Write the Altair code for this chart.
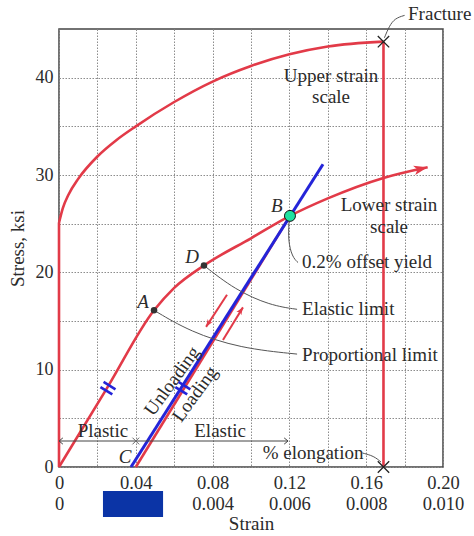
import json
import altair as alt
import pandas as pd

# ---------------- data ----------------
SCALE = 20  # upper strain scale / lower strain scale

# Upper strain scale curve (strain read on the upper scale)
upper_strain = [0, 0.002, 0.005, 0.01, 0.02, 0.03, 0.04, 0.06, 0.08, 0.10, 0.12, 0.14, 0.169]
upper_stress = [25.1, 26.6, 28.0, 29.6, 31.9, 33.6, 35.0, 37.5, 39.6, 41.2, 42.4, 43.2, 43.7]
fracture_strain = 0.169
fracture_stress = 43.7

# Lower strain scale curve (strain read on the lower scale)
lower_strain = [0, 0.00125, 0.002475, 0.003, 0.003775, 0.005, 0.006015, 0.007, 0.00845, 0.0096]
lower_stress = [0, 8.1, 16.1, 18.4, 20.7, 23.5, 25.8, 27.6, 29.7, 30.8]

# Named points (lower scale)
pt_names = ["A", "D"]
pt_strain = [0.002475, 0.003775]
pt_stress = [16.1, 20.7]
yield_strain = 0.006015
yield_stress = 25.8
offset_strain = 0.002          # 0.2 % offset (point C)

# Unloading / loading line (lower scale)
unload_strain = [0.001875, 0.006875]
unload_stress = [0, 31.1]

# Axis tick labels
tick_pos = [0, 4, 8, 12, 16, 20]  # hundredths on upper scale
upper_labels = ["0", "0.04", "0.08", "0.12", "0.16", "0.20"]
lower_labels = ["0", "0.002", "0.004", "0.006", "0.008", "0.010"]
y_labels = [0, 10, 20, 30, 40]

# Annotation texts (upper-scale x, stress y)
txt_label = ["Fracture", "Upper strain", "scale", "Lower strain", "scale",
             "0.2% offset yield", "Elastic limit", "Proportional limit",
             "Plastic", "Elastic", "% elongation"]
txt_x = [0.1818, 0.1417, 0.1417, 0.1719, 0.1719, 0.1266, 0.1266, 0.1266, 0.0229, 0.0839, 0.1323]
txt_y = [46.5, 40.2, 38.0, 26.9, 24.7, 21.1, 16.2, 11.5, 3.7, 3.7, 1.44]
txt_align = ["left", "center", "center", "center", "center", "left", "left", "left",
             "center", "center", "center"]

ital_label = ["A", "B", "C", "D"]
ital_x = [0.0438, 0.1135, 0.0344, 0.0693]
ital_y = [16.95, 26.8, 1.03, 21.6]

rot_label = ["Unloading", "Loading"]
rot_x = [0.0589, 0.0708]
rot_y = [8.84, 7.5]

# Leader curves
leaders = {
    "B": ([0.1198, 0.1193, 0.1214, 0.1245], [25.2, 23.3, 21.6, 21.0]),
    "D": ([0.0755, 0.0917, 0.110, 0.124], [20.7, 18.2, 16.6, 16.2]),
    "A": ([0.0495, 0.0682, 0.0943, 0.124], [16.1, 13.9, 12.2, 11.6]),
    "F": ([0.180, 0.175, 0.172, 0.1695], [46.4, 46.1, 45.3, 44.1]),
    "E": ([0.158, 0.164, 0.1677], [1.44, 1.13, 0.51]),
}

# Red direction arrows (upper-scale x, stress)
arrow_x0 = [0.0875, 0.0854]
arrow_y0 = [17.7, 13.05]
arrow_x1 = [0.0766, 0.0958]
arrow_y1 = [14.4, 16.4]
arrow_angle = [213, 33]

# Elongation dimension line
dim_y = 2.67
dim_x = [0, 0.1193]

# Hash marks centres
hash_x = [0.0255, 0.0645]
hash_y = [8.1, 8.1]

# blue box hiding a label
box_x = [0.0229, 0.0542]
box_y = [-2.47, -5.14]

# ---------------- layout ----------------
W, H = 384, 438
xs = alt.Scale(domain=[0, 0.2], nice=False, zero=False)
ys = alt.Scale(domain=[0, 45], nice=False)
FONT = "Liberation Serif"
RED = "#e23a48"
BLUE = "#2424d8"
TXT = "#2b2b2b"

idx = f"indexof({json.dumps(tick_pos)}, round(datum.value*100))"
x_label_expr = f"{idx} >= 0 ? [{json.dumps(upper_labels)}[{idx}], {json.dumps(lower_labels)}[{idx}]] : ''"
y_label_expr = f"indexof({json.dumps(y_labels)}, datum.value) >= 0 ? datum.label : ''"

x_axis = alt.Axis(values=[round(i * 0.02, 2) for i in range(11)], labelExpr=x_label_expr, title="Strain",
                  labelFont=FONT, labelFontSize=18.5, labelColor=TXT, labelLineHeight=21,
                  labelPadding=6, labelFlush=False, labelOverlap=False, ticks=False, domain=False,
                  grid=True, gridColor="#8c8c8c", gridDash=[1.5, 1.5], gridWidth=1,
                  titleFont=FONT, titleFontSize=19, titleFontWeight="normal", titleColor=TXT,
                  titlePadding=2)
y_axis = alt.Axis(values=list(range(0, 45, 5)), labelExpr=y_label_expr, title="Stress, ksi",
                  labelFont=FONT, labelFontSize=18, labelColor=TXT, labelPadding=6,
                  ticks=False, domain=False, grid=True, gridColor="#8c8c8c", gridDash=[1.5, 1.5],
                  gridWidth=1, titleFont=FONT, titleFontSize=19, titleFontWeight="normal",
                  titleColor=TXT, titlePadding=8)


def X(field="x"):
    return alt.X(f"{field}:Q", scale=xs, axis=x_axis)


def Y(field="y"):
    return alt.Y(f"{field}:Q", scale=ys, axis=y_axis)


# upper curve
df_up = pd.DataFrame({"x": upper_strain, "y": upper_stress})
up_line = alt.Chart(df_up).mark_line(color=RED, strokeWidth=2.6, interpolate="monotone").encode(
    x=X(), y=Y())

# vertical red rules (elastic part on upper scale, and fracture drop)
df_vr = pd.DataFrame({"x": [0, fracture_strain], "y": [0, 0], "y2": [upper_stress[0], fracture_stress]})
vr = alt.Chart(df_vr).mark_rule(color=RED, strokeWidth=2.6).encode(x=X(), y=Y(), y2="y2:Q")

# lower curve
df_low = pd.DataFrame({"strain": lower_strain, "y": lower_stress})
low_line = alt.Chart(df_low).transform_calculate(x=f"datum.strain*{SCALE}").mark_line(
    color=RED, strokeWidth=2.6, interpolate="monotone").encode(x=X(), y=Y())

# end arrowhead of lower curve
df_endarrow = pd.DataFrame({"strain": [lower_strain[-1]], "y": [lower_stress[-1]]})
end_arrow = alt.Chart(df_endarrow).transform_calculate(x=f"datum.strain*{SCALE}").mark_point(
    shape="M0,0L0.55,1.6L0,1.2L-0.55,1.6Z", filled=True, color=RED, size=300, angle=77,
    opacity=1).encode(x=X(), y=Y())

# offset line (red) from C to B
df_off = pd.DataFrame({"s0": [offset_strain], "s1": [yield_strain], "y": [0], "y2": [yield_stress]})
off_line = alt.Chart(df_off).transform_calculate(
    x=f"datum.s0*{SCALE}", x2=f"datum.s1*{SCALE}").mark_rule(color=RED, strokeWidth=2.6).encode(
    x=X(), x2="x2:Q", y=Y(), y2="y2:Q")

# blue unloading/loading line
df_blue = pd.DataFrame({"s0": [unload_strain[0]], "s1": [unload_strain[1]],
                        "y": [unload_stress[0]], "y2": [unload_stress[1]]})
blue_line = alt.Chart(df_blue).transform_calculate(
    x=f"datum.s0*{SCALE}", x2=f"datum.s1*{SCALE}").mark_rule(color=BLUE, strokeWidth=3).encode(
    x=X(), x2="x2:Q", y=Y(), y2="y2:Q")

# hash marks (perpendicular double strokes)
px_x = W / 0.2
px_y = H / 45.0
dirx, diry = 0.525, -0.851   # along the elastic line in screen px
perx, pery = 0.851, 0.525    # perpendicular
rows = []
for cx, cy in zip(hash_x, hash_y):
    for s in (-3.0, 3.0):
        ox, oy = s * dirx, s * diry
        ax, ay = ox - 7 * perx, oy - 7 * pery
        bx, by = ox + 7 * perx, oy + 7 * pery
        rows.append({"x": cx + ax / px_x, "y": cy - ay / px_y,
                     "x2": cx + bx / px_x, "y2": cy - by / px_y})
hashes = alt.Chart(pd.DataFrame(rows)).mark_rule(color=BLUE, strokeWidth=2.6).encode(
    x=X(), x2="x2:Q", y=Y(), y2="y2:Q")

# red direction arrows
df_arr = pd.DataFrame({"x": arrow_x0, "y": arrow_y0, "x2": arrow_x1, "y2": arrow_y1, "a": arrow_angle})
arr_lines = alt.Chart(df_arr).mark_rule(color=RED, strokeWidth=2).encode(
    x=X(), x2="x2:Q", y=Y(), y2="y2:Q")
arr_heads = alt.Chart(df_arr).mark_point(
    shape="M0,0L0.7,1.8L0,1.3L-0.7,1.8Z", filled=True, color=RED, size=70, opacity=1).encode(
    x=X("x2"), y=Y("y2"), angle=alt.Angle("a:Q", scale=None))

# points A, D
df_pts = pd.DataFrame({"strain": pt_strain, "y": pt_stress, "name": pt_names})
pts = alt.Chart(df_pts).transform_calculate(x=f"datum.strain*{SCALE}").mark_point(
    filled=True, color="#333333", size=42, opacity=1).encode(x=X(), y=Y())

# B (green)
df_b = pd.DataFrame({"strain": [yield_strain], "y": [yield_stress]})
b_pt = alt.Chart(df_b).transform_calculate(x=f"datum.strain*{SCALE}").mark_point(
    filled=True, fill="#1fe0a0", stroke="#111111", strokeWidth=1, size=120, opacity=1).encode(
    x=X(), y=Y())

# X marks
df_x = pd.DataFrame({"x": [fracture_strain, fracture_strain], "y": [fracture_stress, 0]})
xmarks = alt.Chart(df_x).mark_point(shape="M-1,-1L1,1M-1,1L1,-1", filled=False, color="#222222",
                                     strokeWidth=1.3, size=130, opacity=1).encode(x=X(), y=Y())
df_xs = pd.DataFrame({"strain": [offset_strain], "y": [dim_y]})
xsmall = alt.Chart(df_xs).transform_calculate(x=f"datum.strain*{SCALE}").mark_point(
    shape="M-1,-1L1,1M-1,1L1,-1", filled=False, color="#666666", strokeWidth=1,
    size=45, opacity=1).encode(x=X(), y=Y())

# dimension line
df_dim = pd.DataFrame({"x": [dim_x[0]], "x2": [dim_x[1]], "y": [dim_y]})
dim_line = alt.Chart(df_dim).mark_rule(color="#444444", strokeWidth=1).encode(x=X(), x2="x2:Q", y=Y())
df_dimh = pd.DataFrame({"x": dim_x, "y": [dim_y, dim_y], "a": [270, 90]})
dim_heads = alt.Chart(df_dimh).mark_point(shape="M-0.8,1L0,0L0.8,1", filled=False, color="#444444",
                                          strokeWidth=1, size=60, opacity=1).encode(
    x=X(), y=Y(), angle=alt.Angle("a:Q", scale=None))

# leader curves
lrows = []
for k, (lx, ly) in leaders.items():
    for i, (a, b) in enumerate(zip(lx, ly)):
        lrows.append({"id": k, "o": i, "x": a, "y": b})
lead = alt.Chart(pd.DataFrame(lrows)).mark_line(color="#555555", strokeWidth=1,
                                                interpolate="basis").encode(
    x=X(), y=Y(), detail="id:N", order="o:Q")

# blue box
df_box = pd.DataFrame({"x": [box_x[0]], "x2": [box_x[1]], "y": [box_y[0]], "y2": [box_y[1]]})
box = alt.Chart(df_box).mark_rect(color="#0b34a6", opacity=1).encode(x=X(), x2="x2:Q", y=Y(), y2="y2:Q")

# texts
df_txt = pd.DataFrame({"t": txt_label, "x": txt_x, "y": txt_y, "al": txt_align})
texts = []
for al in ("left", "center"):
    texts.append(alt.Chart(df_txt[df_txt.al == al]).mark_text(
        font=FONT, fontSize=19, color=TXT, align=al, baseline="middle").encode(
        x=X(), y=Y(), text="t:N"))
df_it = pd.DataFrame({"t": ital_label, "x": ital_x, "y": ital_y})
ital = alt.Chart(df_it).mark_text(font=FONT, fontSize=19, fontStyle="italic", color=TXT,
                                  baseline="middle").encode(x=X(), y=Y(), text="t:N")
df_rot = pd.DataFrame({"t": rot_label, "x": rot_x, "y": rot_y})
rot = alt.Chart(df_rot).mark_text(font=FONT, fontSize=19, color=TXT, angle=306,
                                  baseline="middle").encode(x=X(), y=Y(), text="t:N")

chart = alt.layer(
    up_line, vr, low_line, off_line, blue_line, hashes, arr_lines, arr_heads, end_arrow,
    dim_line, dim_heads, lead, pts, b_pt, xmarks, xsmall, box, *texts, ital, rot
).properties(
    width=W, height=H,
    autosize=alt.AutoSizeParams(type="none"),
    padding={"left": 59, "top": 29, "right": 31, "bottom": 69},
    background="white",
).configure_view(stroke="#444444", strokeWidth=1.5)

chart.save("out.html", embed_options={"renderer": "svg", "actions": False})
